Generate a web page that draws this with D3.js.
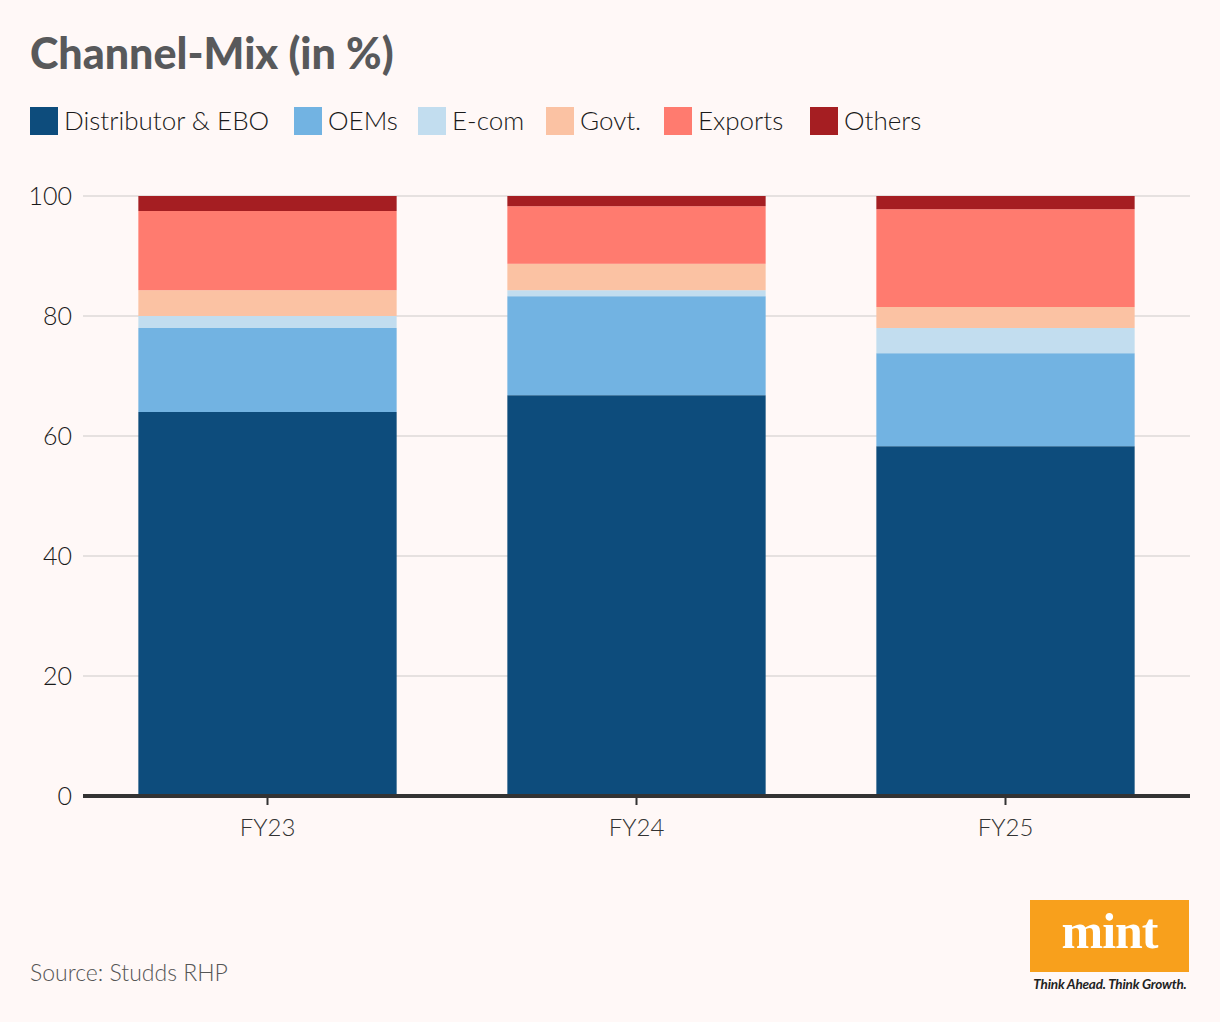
<!DOCTYPE html>
<html>
<head>
<meta charset="utf-8">
<script src="https://cdn.jsdelivr.net/npm/d3@7"></script>
<style>
  html, body { margin: 0; padding: 0; background: #fff8f7; }
  svg { display: block; }
  text { font-family: Lato, "Noto Sans", sans-serif; }
</style>
</head>
<body>
<script>
const categories = ["FY23", "FY24", "FY25"];
const seriesNames = ["Distributor & EBO", "OEMs", "E-com", "Govt.", "Exports", "Others"];
const distributorEBO = [64.0, 66.8, 58.3];
const oems = [14.0, 16.5, 15.5];
const ecom = [2.0, 1.0, 4.2];
const govt = [4.3, 4.4, 3.5];
const exportsVals = [13.2, 9.6, 16.3];
const others = [2.5, 1.7, 2.2];
const yTicks = [0, 20, 40, 60, 80, 100];
const colors = ["#0d4c7c", "#72b3e2", "#c2ddef", "#fbc2a3", "#ff7b6f", "#a51e22"];

const seriesValues = [distributorEBO, oems, ecom, govt, exportsVals, others];
const rows = categories.map((c, i) => {
  const r = { cat: c };
  seriesNames.forEach((s, j) => r[s] = seriesValues[j][i]);
  return r;
});

const W = 1220, H = 1022;
const svg = d3.select("body").append("svg").attr("width", W).attr("height", H);
svg.append("rect").attr("width", W).attr("height", H).attr("fill", "#fff8f7");

// Title
svg.append("text").attr("x", 30).attr("y", 69)
  .attr("font-size", 43).attr("font-weight", 900).attr("fill", "#58595b")
  .text("Channel-Mix (in %)");

// Legend
const legendX = [30, 294, 418, 546, 664, 810];
const lg = svg.append("g");
seriesNames.forEach((s, i) => {
  lg.append("rect").attr("x", legendX[i]).attr("y", 107).attr("width", 28).attr("height", 28).attr("fill", colors[i]);
  lg.append("text").attr("x", legendX[i] + 34).attr("y", 130)
    .attr("font-size", 26).attr("font-weight", 300).attr("fill", "#1a1a1a").text(s);
});

const plotLeft = 83, plotRight = 1190, plotTop = 196, plotBottom = 796;
const x = d3.scaleBand().domain(categories).range([plotLeft, plotRight]).paddingInner(0.3).paddingOuter(0.15);
const y = d3.scaleLinear().domain([0, 100]).range([plotBottom, plotTop]);

// gridlines
svg.append("g").selectAll("line").data(yTicks.filter(t => t > 0)).join("line")
  .attr("x1", plotLeft).attr("x2", plotRight)
  .attr("y1", d => y(d)).attr("y2", d => y(d))
  .attr("stroke", "#e6e1e0").attr("stroke-width", 2);

// y labels
svg.append("g").selectAll("text").data(yTicks).join("text")
  .attr("x", 72).attr("y", d => y(d)).attr("dy", "0.35em")
  .attr("text-anchor", "end").attr("font-size", 25).attr("font-weight", 300).attr("fill", "#1a1a1a")
  .text(d => d);

// bars
const stack = d3.stack().keys(seriesNames)(rows);
svg.append("g").selectAll("g").data(stack).join("g")
  .attr("fill", (d, i) => colors[i])
  .selectAll("rect").data(d => d).join("rect")
  .attr("x", d => x(d.data.cat))
  .attr("width", x.bandwidth())
  .attr("y", d => y(d[1]))
  .attr("height", d => y(d[0]) - y(d[1]));

// x axis
const xAxis = svg.append("g").attr("transform", `translate(0,${plotBottom})`)
  .call(d3.axisBottom(x).tickSize(9).tickPadding(14));
xAxis.select(".domain").remove();
xAxis.selectAll(".tick line").attr("stroke", "#333").attr("stroke-width", 2);
xAxis.selectAll(".tick text").attr("font-size", 24).attr("font-weight", 300).attr("fill", "#333");
svg.append("line").attr("x1", plotLeft).attr("x2", plotRight).attr("y1", plotBottom).attr("y2", plotBottom)
  .attr("stroke", "#333").attr("stroke-width", 4);

// Source
svg.append("text").attr("x", 30).attr("y", 981).attr("font-size", 23).attr("font-weight", 300).attr("fill", "#555")
  .text("Source: Studds RHP");

// Mint logo
svg.append("rect").attr("x", 1030).attr("y", 900).attr("width", 159).attr("height", 72).attr("fill", "#f8a01c");
svg.append("text").attr("x", 1109.5).attr("y", 948).attr("text-anchor", "middle")
  .style("font-family", "'Liberation Serif', 'DejaVu Serif', serif").attr("font-weight", "bold")
  .attr("font-size", 50).attr("fill", "#fff").attr("letter-spacing", -1).text("mint");
svg.append("text").attr("x", 1110).attr("y", 989).attr("text-anchor", "middle")
  .attr("font-size", 13.5).attr("font-style", "italic").attr("font-weight", "bold").attr("fill", "#222")
  .attr("letter-spacing", -0.2)
  .text("Think Ahead. Think Growth.");
</script>
</body>
</html>
